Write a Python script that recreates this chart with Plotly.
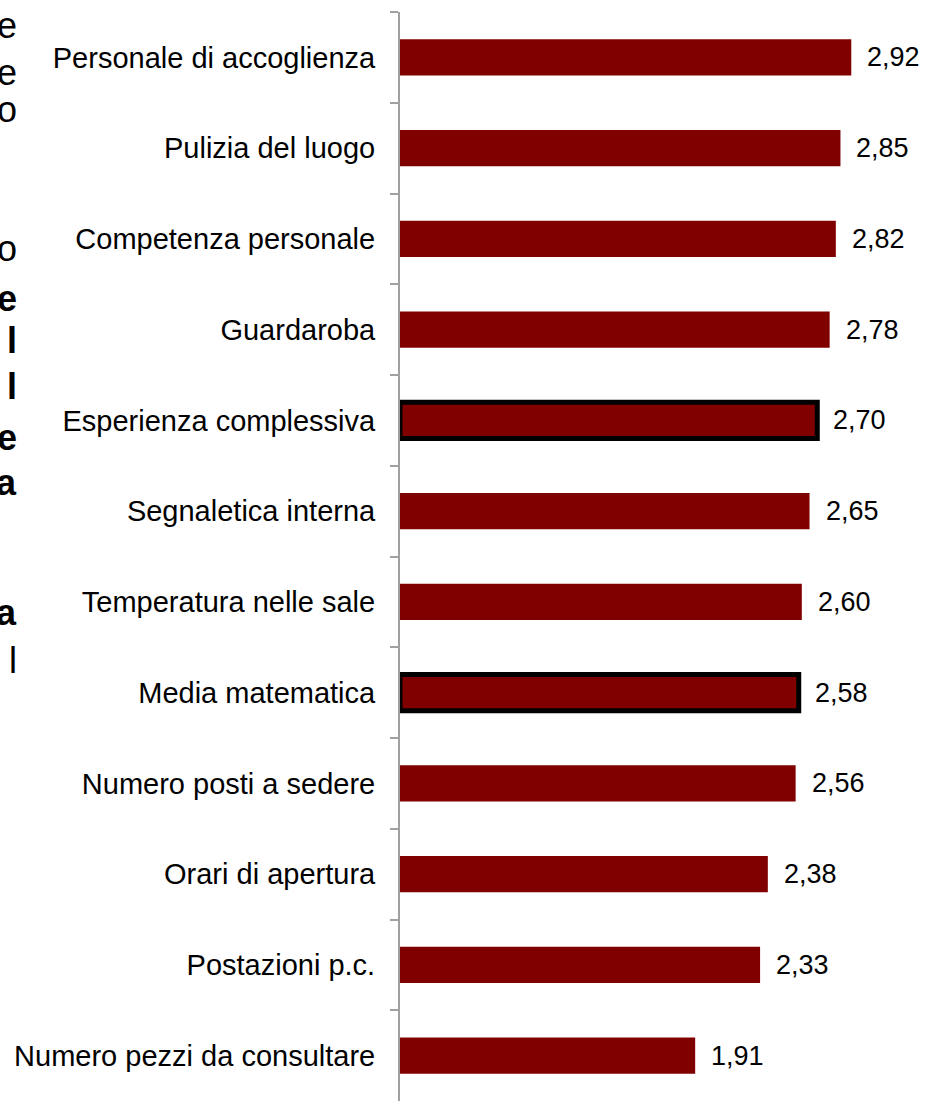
import plotly.graph_objects as go

# Service satisfaction scores, listed top to bottom
categories = [
    "Personale di accoglienza",
    "Pulizia del luogo",
    "Competenza personale",
    "Guardaroba",
    "Esperienza complessiva",
    "Segnaletica interna",
    "Temperatura nelle sale",
    "Media matematica",
    "Numero posti a sedere",
    "Orari di apertura",
    "Postazioni p.c.",
    "Numero pezzi da consultare",
]
scores = [2.92, 2.85, 2.82, 2.78, 2.70, 2.65, 2.60, 2.58, 2.56, 2.38, 2.33, 1.91]
highlighted = ["Esperienza complessiva", "Media matematica"]

# Fragments of a neighbouring text block that spill in at the left edge
side_chars = ["e", "e", "o", "o", "e", "l", "l", "e", "a", "a", "l"]
side_y = [26, 72, 110, 248, 298, 340, 386, 438, 482, 612, 660]
side_bold = [False, False, False, False, True, True, True, True, True, True, False]

W, H = 928, 1101
ML, MR, MT, MB = 400, 18, 12, 0
FONT = "Liberation Sans, Arial, sans-serif"

bar_color = "#800000"
line_w = [5 if c in highlighted else 0 for c in categories]

fig = go.Figure(
    go.Bar(
        x=scores,
        y=categories,
        orientation="h",
        marker=dict(color=bar_color, line=dict(color="black", width=line_w)),
        width=0.4,
        hoverinfo="skip",
    )
)

# Value labels, comma as decimal separator
for c, v in zip(categories, scores):
    fig.add_annotation(
        x=v, y=c, xref="x", yref="y",
        text=f"{v:.2f}".replace(".", ","),
        showarrow=False, xanchor="left", xshift=14,
        font=dict(family=FONT, size=27, color="black"),
    )

plot_w = W - ML - MR
plot_h = H - MT - MB
for ch, yy, b in zip(side_chars, side_y, side_bold):
    fig.add_annotation(
        x=(19 - ML) / plot_w, xref="paper",
        y=1 - (yy - MT) / plot_h, yref="paper",
        text=f"<b>{ch}</b>" if b else ch,
        showarrow=False, xanchor="right", yanchor="middle",
        font=dict(family=FONT, size=36, color="black"),
    )

fig.update_layout(
    width=W, height=H,
    margin=dict(l=ML, r=MR, t=MT, b=MB, pad=0),
    paper_bgcolor="white", plot_bgcolor="white",
    showlegend=False,
    xaxis=dict(range=[0, 3.30], visible=False, fixedrange=True),
    yaxis=dict(
        autorange="reversed",
        showline=True, linecolor="#A0A0A0", linewidth=2,
        ticks="outside", tickson="boundaries", ticklen=8,
        tickcolor="#A0A0A0", tickwidth=2,
        ticklabelstandoff=17,
        tickfont=dict(family=FONT, size=29, color="black"),
        showgrid=False, zeroline=False,
    ),
)

fig.write_html("out.html")
